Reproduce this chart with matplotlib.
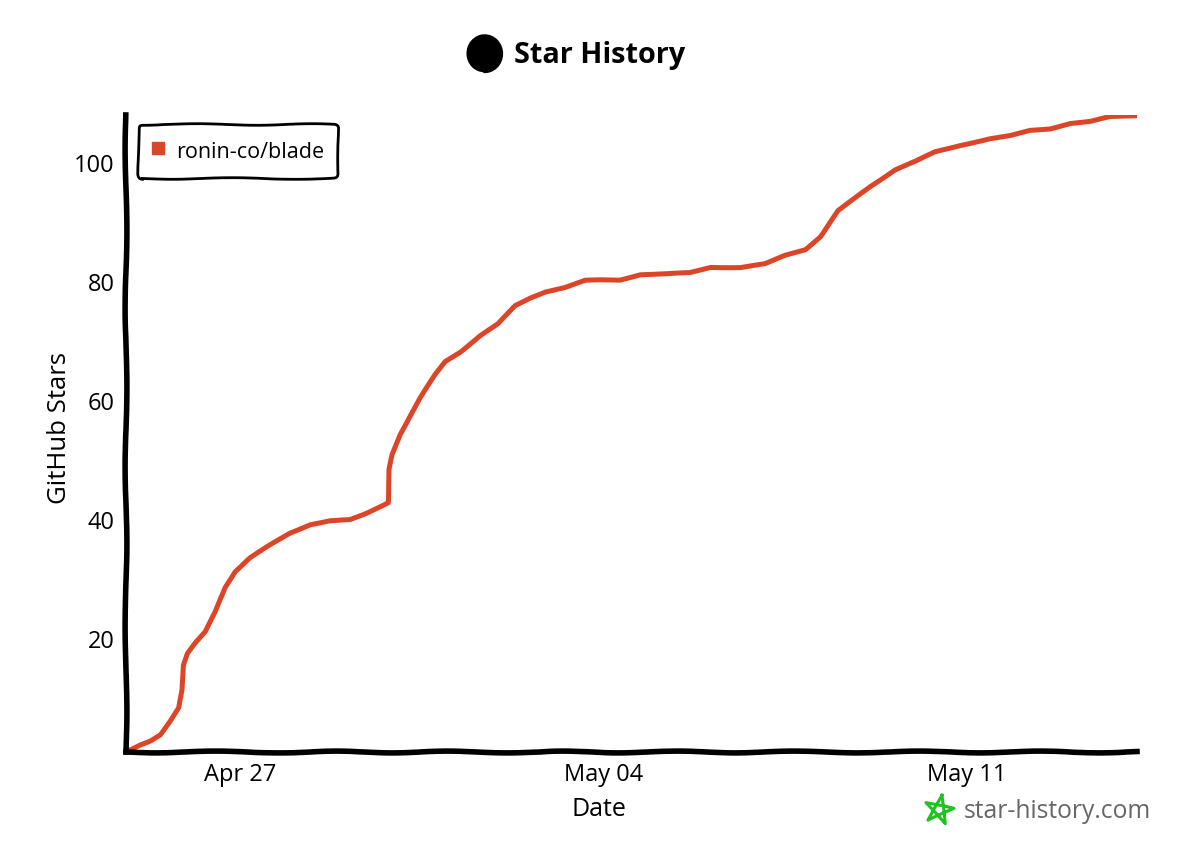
import numpy as np
import matplotlib
matplotlib.use("Agg")
import matplotlib.pyplot as plt
from matplotlib.lines import Line2D
from matplotlib.patches import Ellipse

# days since Apr 27 / star count
days = [-2.2, -1.93, -1.73, -1.54, -1.35, -1.18, -1.12, -1.10, -1.02, -0.87, -0.67, -0.48, -0.29, -0.10,
        0.19, 0.58, 0.96, 1.35, 1.73, 2.12, 2.41, 2.85, 2.87, 2.93, 3.08, 3.28, 3.47, 3.76, 3.95,
        4.24, 4.62, 4.97, 5.30, 5.59, 5.88, 6.26, 6.65, 6.94, 7.32, 7.71, 8.19, 8.67, 9.06, 9.63,
        10.12, 10.50, 10.89, 11.18, 11.52, 11.75, 12.14, 12.62, 13.01, 13.39, 13.87, 14.45, 14.84,
        15.22, 15.61, 15.99, 16.38, 16.76, 17.28]
stars = [1.0, 2.2, 2.9, 3.9, 6.1, 8.4, 11.4, 15.6, 17.6, 19.3, 21.2, 24.5, 28.7, 31.3,
         33.6, 35.8, 37.8, 39.2, 39.8, 40.0, 41.0, 42.9, 48.4, 50.9, 54.3, 57.6, 60.5, 64.4, 66.6,
         68.2, 70.9, 72.9, 76.0, 77.3, 78.3, 79.0, 80.2, 80.3, 80.3, 81.2, 81.3, 81.5, 82.4, 82.4,
         83.0, 84.4, 85.4, 87.6, 91.9, 93.4, 96.0, 98.8, 100.2, 101.8, 102.9, 104.0, 104.5,
         105.4, 105.7, 106.6, 106.9, 107.7, 107.9]
x_ticks = [0, 7, 14]
x_labels = ["Apr 27", "May 04", "May 11"]
y_ticks = [20, 40, 60, 80, 100]
series_name = "ronin-co/blade"

RED = "#dd4528"
W, H = 1200, 866

plt.xkcd(scale=1, length=120, randomness=2)
plt.rcParams["path.effects"] = []
plt.rcParams["font.family"] = ["Open Sans", "DejaVu Sans"]

fig = plt.figure(figsize=(12, 8.66), dpi=100, facecolor="white")
ax = fig.add_axes([126 / W, 1 - 752 / H, (1137 - 126) / W, (752 - 115) / H])

line, = ax.plot(days, stars, color=RED, lw=3.6, solid_capstyle="round", solid_joinstyle="round")
line.set_sketch_params(0.3, 100, 2)

ax.set_xlim(-2.2, 17.28)
ax.set_ylim(1, 108)
ax.set_xticks(x_ticks, x_labels)
ax.set_yticks(y_ticks)
ax.tick_params(length=0, labelsize=17)
ax.tick_params(axis="x", pad=8)
ax.tick_params(axis="y", pad=8)
ax.set_xlabel("Date", fontsize=18)
ax.set_ylabel("GitHub Stars", fontsize=18.5)
ax.xaxis.set_label_coords((599 - 126) / 1011, -(809 - 752) / 637)
ax.xaxis.label.set_verticalalignment("center")
ax.yaxis.set_label_coords(-(126 - 59) / 1011, (752 - 428) / 637)
ax.yaxis.label.set_verticalalignment("center")

for side in ["top", "right"]:
    ax.spines[side].set_visible(False)
for side in ["left", "bottom"]:
    ax.spines[side].set_linewidth(4.0)
    ax.spines[side].set_color("black")
ax.spines["left"].set_sketch_params(0.9, 180, 2)
ax.spines["bottom"].set_sketch_params(0.9, 130, 2)

handle = Line2D([], [], color=RED, marker="s", markersize=9, linestyle="none", label=series_name)
leg = ax.legend(handles=[handle], loc="upper left", bbox_to_anchor=(12 / 1011, 1 - 9 / 637), borderaxespad=0,
                fontsize=15.5, numpoints=1, handlelength=0.6, handleheight=1.45, handletextpad=0.5,
                borderpad=0.65, fancybox=True, framealpha=1, edgecolor="black")
leg.get_frame().set_linewidth(2.0)
leg.get_frame().set_sketch_params(0.8, 130, 2)

# title with the black dot
fig.add_artist(Ellipse((484 / W, 1 - 54 / H), 35 / W, 37 / H, transform=fig.transFigure,
                       facecolor="black", edgecolor="black"))
fig.text(514 / W, 1 - 56 / H, "Star History", fontsize=20.8, fontweight="bold", va="center", ha="left")

# watermark, green pentagram
angles = np.pi / 2 + np.arange(6) * 4 * np.pi / 5 - 0.2
star_x = (939 + 15 * np.cos(angles)) / W
star_y = 1 - (810 - 15 * np.sin(angles)) / H
logo = Line2D(star_x, star_y, transform=fig.transFigure, color="#1ec41e", lw=2.2)
logo.set_sketch_params(0.2, 60, 2)
fig.add_artist(logo)
fig.text(964 / W, 1 - 811 / H, "star-history.com", fontsize=17.7, color="#666666", va="center", ha="left")

fig.savefig("out.png", dpi=100)
